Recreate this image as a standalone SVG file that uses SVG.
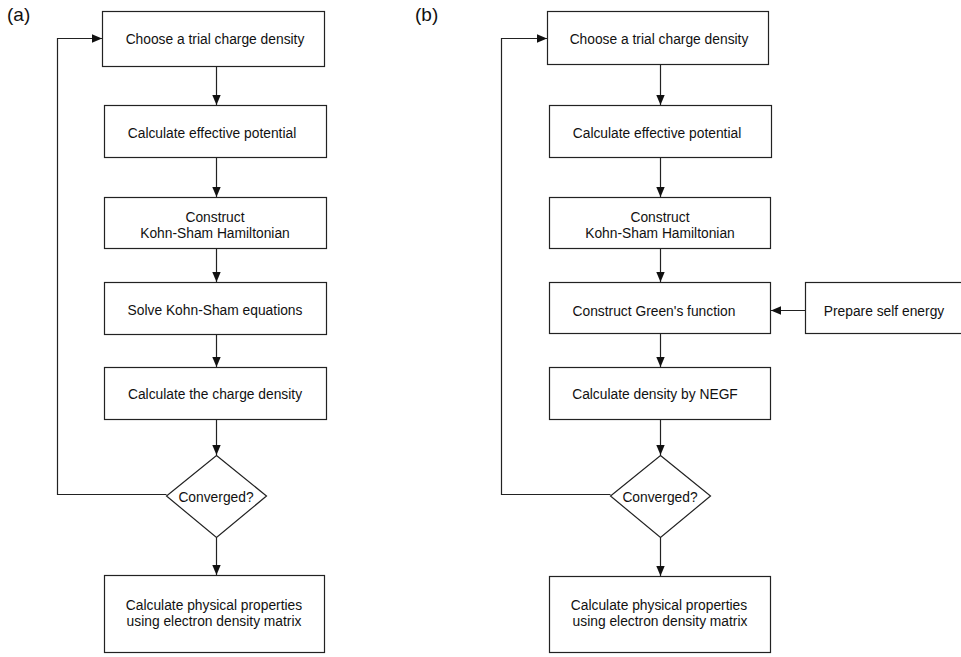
<svg xmlns="http://www.w3.org/2000/svg" width="961" height="657" viewBox="0 0 961 657">
  <style>
    .box { fill: #ffffff; stroke: #222222; stroke-width: 1.2; }
    .lbl { font-family: "Liberation Sans", Arial, sans-serif; font-size: 13.8px; fill: #111111; text-anchor: middle; }
    .panel { font-family: "Liberation Sans", Arial, sans-serif; font-size: 19px; fill: #111111; }
    .edge { fill: none; stroke: #222222; stroke-width: 1.2; }
  </style>
  <defs>
    <marker id="arrow" viewBox="0 0 10 10" refX="10" refY="5" markerWidth="10" markerHeight="10" markerUnits="userSpaceOnUse" orient="auto">
      <path d="M0,0.8 L10,5 L0,9.2 Z" fill="#111111"/>
    </marker>
  </defs>
  <rect width="961" height="657" fill="#ffffff"/>

  <text class="panel" x="7" y="21">(a)</text>
  <text class="panel" x="415" y="21">(b)</text>

  <!-- Panel (a): plain self-consistent loop -->
  <g id="a-trial"><rect class="box" x="102.5" y="11.5" width="222" height="55"/><text class="lbl" x="215" y="44">Choose a trial charge density</text></g>
  <g id="a-potential"><rect class="box" x="104.5" y="105.5" width="222" height="52"/><text class="lbl" x="212" y="138">Calculate effective potential</text></g>
  <g id="a-hamiltonian"><rect class="box" x="104.5" y="197.5" width="222" height="51"/><text class="lbl" x="215" y="222">Construct</text><text class="lbl" x="215" y="238">Kohn-Sham Hamiltonian</text></g>
  <g id="a-solve"><rect class="box" x="104.5" y="282.5" width="222" height="52"/><text class="lbl" x="215" y="315">Solve Kohn-Sham equations</text></g>
  <g id="a-density"><rect class="box" x="104.5" y="367.5" width="222" height="52"/><text class="lbl" x="215" y="399">Calculate the charge density</text></g>
  <g id="a-converged"><polygon class="box" points="216.5,455.5 266.5,496 216.5,537.5 166.5,496"/><text class="lbl" x="216" y="502">Converged?</text></g>
  <g id="a-properties"><rect class="box" x="104.5" y="575.5" width="220" height="77"/><text class="lbl" x="214" y="610">Calculate physical properties</text><text class="lbl" x="214" y="626">using electron density matrix</text></g>

  <!-- Panel (b): NEGF loop -->
  <g id="b-trial"><rect class="box" x="547.5" y="11.5" width="221" height="53"/><text class="lbl" x="659" y="44">Choose a trial charge density</text></g>
  <g id="b-potential"><rect class="box" x="549.5" y="105.5" width="222" height="52"/><text class="lbl" x="657" y="138">Calculate effective potential</text></g>
  <g id="b-hamiltonian"><rect class="box" x="549.5" y="197.5" width="221" height="51"/><text class="lbl" x="660" y="222">Construct</text><text class="lbl" x="660" y="238">Kohn-Sham Hamiltonian</text></g>
  <g id="b-green"><rect class="box" x="549.5" y="282.5" width="221" height="51"/><text class="lbl" x="654" y="316">Construct Green's function</text></g>
  <g id="b-selfenergy"><rect class="box" x="805.5" y="282.5" width="170" height="51"/><text class="lbl" x="884" y="316">Prepare self energy</text></g>
  <g id="b-density"><rect class="box" x="549.5" y="367.5" width="221" height="52"/><text class="lbl" x="655" y="399">Calculate density by NEGF</text></g>
  <g id="b-converged"><polygon class="box" points="660.5,455.5 710.5,496 660.5,537.5 610.5,496"/><text class="lbl" x="660" y="502">Converged?</text></g>
  <g id="b-properties"><rect class="box" x="549.5" y="576.5" width="221" height="76"/><text class="lbl" x="659" y="610">Calculate physical properties</text><text class="lbl" x="660" y="626">using electron density matrix</text></g>

  <g id="connectors">
    <!-- panel (a) -->
    <line class="edge" x1="216.5" y1="67" x2="216.5" y2="105" marker-end="url(#arrow)"/>
    <line class="edge" x1="216.5" y1="158" x2="216.5" y2="197" marker-end="url(#arrow)"/>
    <line class="edge" x1="216.5" y1="249" x2="216.5" y2="282" marker-end="url(#arrow)"/>
    <line class="edge" x1="216.5" y1="335" x2="216.5" y2="367" marker-end="url(#arrow)"/>
    <line class="edge" x1="216.5" y1="420" x2="216.5" y2="455" marker-end="url(#arrow)"/>
    <line class="edge" x1="216.5" y1="538" x2="216.5" y2="575" marker-end="url(#arrow)"/>
    <polyline class="edge" points="166.5,494.5 57.5,494.5 57.5,38.5 102,38.5" marker-end="url(#arrow)"/>
    <!-- panel (b) -->
    <line class="edge" x1="660.5" y1="65" x2="660.5" y2="105" marker-end="url(#arrow)"/>
    <line class="edge" x1="660.5" y1="158" x2="660.5" y2="197" marker-end="url(#arrow)"/>
    <line class="edge" x1="660.5" y1="249" x2="660.5" y2="282" marker-end="url(#arrow)"/>
    <line class="edge" x1="660.5" y1="334" x2="660.5" y2="367" marker-end="url(#arrow)"/>
    <line class="edge" x1="660.5" y1="420" x2="660.5" y2="455" marker-end="url(#arrow)"/>
    <line class="edge" x1="660.5" y1="538" x2="660.5" y2="576" marker-end="url(#arrow)"/>
    <line class="edge" x1="805" y1="310.5" x2="771" y2="310.5" marker-end="url(#arrow)"/>
    <polyline class="edge" points="610.5,494.5 501.5,494.5 501.5,38.5 547,38.5" marker-end="url(#arrow)"/>
  </g>
</svg>
